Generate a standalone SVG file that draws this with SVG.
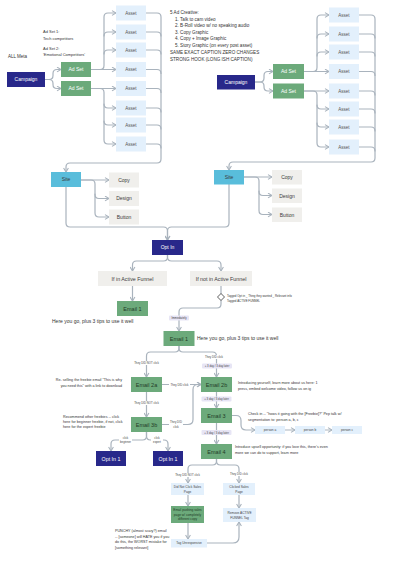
<svg xmlns="http://www.w3.org/2000/svg" width="400" height="564" viewBox="0 0 400 564">
<defs>
<marker id="a" viewBox="0 0 6 6" refX="5" refY="3" markerWidth="6" markerHeight="6" markerUnits="userSpaceOnUse" orient="auto"><path d="M1,0.6 L5,3 L1,5.4" fill="none" stroke="#a9b3bd" stroke-width="1.1"/></marker>
<style>
text{font-family:"Liberation Sans",Arial,sans-serif;}
.c{fill:none;stroke:#a9b3bd;stroke-width:1.2;stroke-linecap:round;stroke-linejoin:round}
.m{marker-end:url(#a)}
.navy{fill:#28288a}
.green{fill:#6caa7b}
.asset{fill:#e3f0fc}
.site{fill:#59bddb}
.gray{fill:#f0efec}
.lb{fill:#e3f0fc}
.pill{fill:#e7e5f5}
.wt{fill:#ffffff;font-size:5px;text-anchor:middle}
.dt{fill:#3a3a3a;font-size:5px;text-anchor:middle}
.at{fill:#555;font-size:4.5px;text-anchor:middle}
.et{fill:#1f3a27;font-size:5.5px;text-anchor:middle}
.note{fill:#333;font-size:4px}
.big{fill:#333;font-size:5px}
.tiny{fill:#444;font-size:2.8px;text-anchor:middle}
</style>
</defs>
<rect width="400" height="564" fill="#ffffff"/>

<g id="notes">
<text class="big" x="8" y="58" style="font-size:4.5px">ALL Meta</text>
<text class="note" x="43" y="33">Ad Set 1:</text>
<text class="note" x="43" y="39.5">Tech competitors</text>
<text class="note" x="43" y="49.5">Ad Set 2:</text>
<text class="note" x="43" y="56">'Emotional Competitors'</text>
<g style="font-size:4.6px" fill="#333">
<text x="170" y="14">5 Ad Creative:</text>
<text x="175" y="20.5">1. Talk to cam video</text>
<text x="175" y="27">2. B-Roll  video w/ no speaking audio</text>
<text x="175" y="33.7">3. Copy Graphic</text>
<text x="175" y="40.4">4. Copy  +  Image Graphic</text>
<text x="175" y="47.2">5. Story Graphic (on every post asset)</text>
<text x="170" y="54">SAME EXACT CAPTION ZERO CHANGES</text>
<text x="170" y="61">STRONG HOOK (LONG ISH CAPTION)</text>
</g>
<text class="big" x="52" y="323">Here you go, plus 3 tips to use it well</text>
<text class="big" x="197" y="340">Here you go, plus 3 tips to use it well</text>
<text class="note" x="122" y="381" text-anchor="end" style="font-size:3.7px">Re- selling the freebie email "This is why</text>
<text class="note" x="122" y="387" text-anchor="end" style="font-size:3.7px">you need this" with a link to download</text>
<text class="note" x="63" y="418" style="font-size:3.7px">Recommend other freebies -- click</text>
<text class="note" x="63" y="423.2" style="font-size:3.7px">here for beginner freebie, if not, click</text>
<text class="note" x="63" y="428.4" style="font-size:3.7px">here for the expert freebie</text>
<text class="note" x="238" y="384" style="font-size:3.7px">Introducing yourself, learn more about us here: 1</text>
<text class="note" x="238" y="389.5" style="font-size:3.7px">press, embed welcome video, follow us on ig</text>
<text class="note" x="248" y="415" style="font-size:3.7px">Check in -- "hows it going with the [Freebie]?" Pep talk w/</text>
<text class="note" x="248" y="420.5" style="font-size:3.7px">segmentation to: person a, b, c</text>
<text class="note" x="235" y="448" style="font-size:3.7px">Introduce upsell opportunity: if you love this, there's even</text>
<text class="note" x="235" y="454" style="font-size:3.7px">more we can do to support, learn more</text>
<text class="note" x="115" y="532" style="font-size:3.7px">PUNCHY (almost scary?) email</text>
<text class="note" x="115" y="537.5" style="font-size:3.7px">-- [someone] will HATE you if you</text>
<text class="note" x="115" y="543" style="font-size:3.7px">do this, the WORST mistake for</text>
<text class="note" x="115" y="548.5" style="font-size:3.7px">[something relevant]</text>
<text class="note" x="227" y="297" style="font-size:2.9px">Tagged Opt in _ Thing they wanted _ Relevant info</text>
<text class="note" x="227" y="301.5" style="font-size:2.9px">Tagged ACTIVE FUNNEL</text>
</g>

<g id="connectors" class="c">
<path class="m" d="M45,79.5 H49 Q53,79.5 53,75.5 V73.5 Q53,69.5 57,69.5 H61"/>
<path class="m" d="M45,79.5 H49 Q53,79.5 53,83.5 V84.5 Q53,88.5 57,88.5 H61"/>
<path class="m" d="M91,69.5 H116"/>
<path class="m" d="M91,69.5 H100 Q104,69.5 104,65.5 V17 Q104,13 108,13 H116"/>
<path class="m" d="M104,36 Q104,32 108,32 H116"/>
<path class="m" d="M104,54 Q104,50 108,50 H116"/>
<path class="m" d="M91,88.5 H116"/>
<path class="m" d="M91,88.5 H100 Q104,88.5 104,92.5 V140 Q104,144 108,144 H116"/>
<path class="m" d="M104,104 Q104,108 108,108 H116"/>
<path class="m" d="M104,121 Q104,125 108,125 H116"/>
<path class="m" d="M146,13 H157 Q161,13 161,17 V159 Q161,163 157,163 H70 Q66,163 66,167 V172"/>
<path d="M146,32 H157 Q161,32 161,36"/>
<path d="M146,50 H157 Q161,50 161,54"/>
<path d="M146,69.5 H157 Q161,69.5 161,73.5"/>
<path d="M146,88.5 H157 Q161,88.5 161,92.5"/>
<path d="M146,108 H157 Q161,108 161,112"/>
<path d="M146,125 H157 Q161,125 161,129"/>
<path d="M146,144 H157 Q161,144 161,148"/>
<path class="m" d="M81,180 H109"/>
<path class="m" d="M81,180 H91 Q95,180 95,184 V194.5 Q95,198.5 99,198.5 H109"/>
<path class="m" d="M95,194 V213 Q95,217 99,217 H109"/>
<path class="m" d="M66,187 V223 Q66,227 70,227 H163.5 Q167.5,227 167.5,231 V240"/>
<path class="m" d="M255,82 H260 Q264,82 264,78 V75.5 Q264,71.5 268,71.5 H273"/>
<path class="m" d="M255,82 H260 Q264,82 264,86 V87 Q264,91 268,91 H273"/>
<path class="m" d="M304,71.5 H329"/>
<path class="m" d="M304,71.5 H313 Q317,71.5 317,67.5 V19 Q317,15 321,15 H329"/>
<path class="m" d="M317,38 Q317,34 321,34 H329"/>
<path class="m" d="M317,56 Q317,52 321,52 H329"/>
<path class="m" d="M304,91 H329"/>
<path class="m" d="M304,91 H313 Q317,91 317,95 V143 Q317,147 321,147 H329"/>
<path class="m" d="M317,105 Q317,109 321,109 H329"/>
<path class="m" d="M317,123 Q317,127 321,127 H329"/>
<path class="m" d="M359,15 H371 Q375,15 375,19 V158 Q375,162 371,162 H233 Q229,162 229,166 V170"/>
<path d="M359,34 H371 Q375,34 375,38"/>
<path d="M359,52 H371 Q375,52 375,56"/>
<path d="M359,71.5 H371 Q375,71.5 375,75.5"/>
<path d="M359,91 H371 Q375,91 375,95"/>
<path d="M359,109 H371 Q375,109 375,113"/>
<path d="M359,127 H371 Q375,127 375,131"/>
<path d="M359,147 H371 Q375,147 375,151"/>
<path class="m" d="M244,177 H272"/>
<path class="m" d="M244,177 H255 Q259,177 259,181 V191.5 Q259,195.5 263,195.5 H272"/>
<path class="m" d="M259,191 V210.5 Q259,214.5 263,214.5 H272"/>
<path class="m" d="M229,184 V223 Q229,227 225,227 H171.5 Q167.5,227 167.5,231 V240"/>
<path class="m" d="M167.5,255 V257 Q167.5,261 163.5,261 H136.5 Q132.5,261 132.5,265 V271"/>
<path class="m" d="M167.5,255 V257 Q167.5,261 171.5,261 H217 Q221,261 221,265 V271"/>
<path class="m" d="M132.5,286 V301"/>
<path d="M221,286 V293.5"/>
<path class="m" d="M221,300.5 V304 Q221,308 217,308 H183 Q179,308 179,312 V331"/>
<path class="m" d="M179,346 V348 Q179,352 175,352 H150.5 Q146.5,352 146.5,356 V377"/>
<path class="m" d="M179,346 V348 Q179,352 183,352 H212.5 Q216.5,352 216.5,356 V377"/>
<path class="m" d="M162,384.5 H201"/>
<path class="m" d="M162,424.5 H188 Q193,424.5 193,419.5 V389.5 Q193,384.5 198,384.5 H201"/>
<path class="m" d="M146.5,392 V417"/>
<path class="m" d="M146.5,432 V436 Q146.5,440 142.5,440 H115 Q111,440 111,444 V451"/>
<path class="m" d="M146.5,432 V436 Q146.5,440 150.5,440 H164 Q168,440 168,444 V451"/>
<path class="m" d="M216.5,392 V408"/>
<path class="m" d="M216.5,423 V444"/>
<path class="m" d="M232,415.5 H236 Q241,415.5 241,420.5 V425 Q241,430 246,430 H255"/>
<path class="m" d="M285,430 H295"/>
<path class="m" d="M325,430 H332"/>
<path class="m" d="M216.5,459 V461 Q216.5,465 212.5,465 H192 Q188,465 188,469 V483"/>
<path class="m" d="M216.5,459 V461 Q216.5,465 220.5,465 H235 Q239,465 239,469 V483"/>
<path class="m" d="M188,495 V506"/>
<path class="m" d="M188,523 V539"/>
<path class="m" d="M239,495 V508"/>
<path class="m" d="M207,543 H233 Q239,543 239,537 V522"/>
</g>

<g id="labels">
<rect class="pill" x="169" y="315.5" width="20" height="5" rx="1"/>
<text class="tiny" x="179" y="319">Immediately</text>
<rect fill="#fff" x="133" y="361" width="27" height="4"/>
<text class="tiny" x="146.5" y="364">They DID NOT click</text>
<rect fill="#fff" x="204" y="355" width="21" height="4"/>
<text class="tiny" x="214" y="358">They DID click</text>
<rect class="pill" x="202" y="363.5" width="30" height="5" rx="1"/>
<text class="tiny" x="217" y="367">+ 3 day / 3 day later</text>
<rect fill="#fff" x="169" y="382.5" width="21" height="4"/>
<text class="tiny" x="179.5" y="385.5">They DID click</text>
<rect fill="#fff" x="133" y="401" width="27" height="4"/>
<text class="tiny" x="146.5" y="404">They DID NOT click</text>
<rect fill="#fff" x="169" y="420" width="14" height="9"/>
<text class="tiny" x="176" y="423">They DID</text>
<text class="tiny" x="176" y="427.5">click</text>
<rect class="pill" x="201.5" y="396.5" width="30" height="5" rx="1"/>
<text class="tiny" x="216.5" y="400">+ 3 day / 3 day later</text>
<rect class="pill" x="201.5" y="430" width="30" height="5" rx="1"/>
<text class="tiny" x="216.5" y="433.5">+ 3 day / 3 day later</text>
<rect fill="#fff" x="119" y="435.5" width="13" height="9"/>
<text class="tiny" x="125.5" y="438.5">click</text>
<text class="tiny" x="125.5" y="443">beginner</text>
<rect fill="#fff" x="151" y="435.5" width="12" height="9"/>
<text class="tiny" x="157" y="438.5">click</text>
<text class="tiny" x="157" y="443">expert</text>
<rect fill="#fff" x="174" y="473" width="27" height="4"/>
<text class="tiny" x="187.5" y="476">They DID NOT click</text>
<rect fill="#fff" x="229" y="472" width="21" height="4"/>
<text class="tiny" x="239" y="475">They DID click</text>
</g>

<g id="campaign-left"><rect class="navy" x="7" y="72" width="38" height="15"/><text class="wt" x="26" y="81.3">Campaign</text></g>
<g id="adset-left-1"><rect class="green" x="61" y="62" width="30" height="15"/><text class="wt" x="76" y="71.3">Ad Set</text></g>
<g id="adset-left-2"><rect class="green" x="61" y="81" width="30" height="15"/><text class="wt" x="76" y="90.3">Ad Set</text></g>
<g id="asset-l1"><rect class="asset" x="116" y="5.5" width="30" height="15"/><text class="at" x="131" y="14.6">Asset</text></g>
<g id="asset-l2"><rect class="asset" x="116" y="24.5" width="30" height="15"/><text class="at" x="131" y="33.6">Asset</text></g>
<g id="asset-l3"><rect class="asset" x="116" y="42.5" width="30" height="15"/><text class="at" x="131" y="51.6">Asset</text></g>
<g id="asset-l4"><rect class="asset" x="116" y="62" width="30" height="15"/><text class="at" x="131" y="71.1">Asset</text></g>
<g id="asset-l5"><rect class="asset" x="116" y="81" width="30" height="15"/><text class="at" x="131" y="90.1">Asset</text></g>
<g id="asset-l6"><rect class="asset" x="116" y="100.5" width="30" height="15"/><text class="at" x="131" y="109.6">Asset</text></g>
<g id="asset-l7"><rect class="asset" x="116" y="117.5" width="30" height="15"/><text class="at" x="131" y="126.6">Asset</text></g>
<g id="asset-l8"><rect class="asset" x="116" y="136.5" width="30" height="15"/><text class="at" x="131" y="145.6">Asset</text></g>
<g id="site-left"><rect class="site" x="51" y="172" width="30" height="15"/><text class="dt" x="66" y="181.3">Site</text></g>
<g id="copy-left"><rect class="gray" x="109" y="172.5" width="30" height="15"/><text class="dt" x="124" y="181.8">Copy</text></g>
<g id="design-left"><rect class="gray" x="109" y="191" width="30" height="15"/><text class="dt" x="124" y="200.3">Design</text></g>
<g id="button-left"><rect class="gray" x="109" y="209.5" width="30" height="15"/><text class="dt" x="124" y="218.8">Button</text></g>

<g id="campaign-right"><rect class="navy" x="217" y="75" width="38" height="14.5"/><text class="wt" x="236" y="84">Campaign</text></g>
<g id="adset-right-1"><rect class="green" x="273" y="64" width="31" height="15"/><text class="wt" x="288.5" y="73.3">Ad Set</text></g>
<g id="adset-right-2"><rect class="green" x="273" y="83.5" width="31" height="15"/><text class="wt" x="288.5" y="92.8">Ad Set</text></g>
<g id="asset-r1"><rect class="asset" x="329" y="7.5" width="30" height="15"/><text class="at" x="344" y="16.6">Asset</text></g>
<g id="asset-r2"><rect class="asset" x="329" y="26.5" width="30" height="15"/><text class="at" x="344" y="35.6">Asset</text></g>
<g id="asset-r3"><rect class="asset" x="329" y="44.5" width="30" height="15"/><text class="at" x="344" y="53.6">Asset</text></g>
<g id="asset-r4"><rect class="asset" x="329" y="64" width="30" height="15"/><text class="at" x="344" y="73.1">Asset</text></g>
<g id="asset-r5"><rect class="asset" x="329" y="83.5" width="30" height="15"/><text class="at" x="344" y="92.6">Asset</text></g>
<g id="asset-r6"><rect class="asset" x="329" y="101.5" width="30" height="15"/><text class="at" x="344" y="110.6">Asset</text></g>
<g id="asset-r7"><rect class="asset" x="329" y="119.5" width="30" height="15"/><text class="at" x="344" y="128.6">Asset</text></g>
<g id="asset-r8"><rect class="asset" x="329" y="139.5" width="30" height="15"/><text class="at" x="344" y="148.6">Asset</text></g>
<g id="site-right"><rect class="site" x="214" y="170" width="30" height="14.5"/><text class="dt" x="229" y="179">Site</text></g>
<g id="copy-right"><rect class="gray" x="272" y="170" width="30" height="14.5"/><text class="dt" x="287" y="179">Copy</text></g>
<g id="design-right"><rect class="gray" x="272" y="188.5" width="30" height="14.5"/><text class="dt" x="287" y="197.5">Design</text></g>
<g id="button-right"><rect class="gray" x="272" y="207.5" width="30" height="14.5"/><text class="dt" x="287" y="216.5">Button</text></g>

<g id="opt-in"><rect class="navy" x="152" y="240" width="31" height="15"/><text class="wt" x="167.5" y="249.3">Opt In</text></g>
<g id="if-in"><rect class="gray" x="98" y="271" width="69" height="15"/><text class="dt" x="132.5" y="280.5" style="font-size:5.3px">If in Active Funnel</text></g>
<g id="if-not"><rect class="gray" x="190" y="271" width="62" height="15"/><text class="dt" x="221" y="280.5" style="font-size:5.3px">If not in Active Funnel</text></g>
<g id="tag-diamond"><path d="M221,293.5 L224.5,297 L221,300.5 L217.5,297 Z" fill="#fff" stroke="#333" stroke-width="0.8"/></g>
<g id="email1-left"><rect class="green" x="117" y="301" width="31" height="15"/><text class="et" x="132.5" y="310.5">Email 1</text></g>
<g id="email1"><rect class="green" x="163.5" y="331" width="31" height="15"/><text class="et" x="179" y="340.5">Email 1</text></g>
<g id="email2a"><rect class="green" x="131" y="377" width="31" height="15"/><text class="et" x="146.5" y="386.5">Email 2a</text></g>
<g id="email2b"><rect class="green" x="201" y="377" width="31" height="15"/><text class="et" x="216.5" y="386.5">Email 2b</text></g>
<g id="email3b"><rect class="green" x="131" y="417" width="31" height="15"/><text class="et" x="146.5" y="426.5">Email 3b</text></g>
<g id="email3"><rect class="green" x="201" y="408" width="31" height="15"/><text class="et" x="216.5" y="417.5">Email 3</text></g>
<g id="email4"><rect class="green" x="201" y="444" width="31" height="15"/><text class="et" x="216.5" y="453.5">Email 4</text></g>
<g id="optin1-a"><rect class="navy" x="96" y="451" width="30" height="15"/><text class="wt" x="111" y="460.5" style="font-size:5.3px">Opt In 1</text></g>
<g id="optin1-b"><rect class="navy" x="153" y="451" width="30" height="15"/><text class="wt" x="168" y="460.5" style="font-size:5.3px">Opt In 1</text></g>
<g id="person-a"><rect class="lb" x="255" y="426" width="30" height="8"/><text class="tiny" x="270" y="431" style="font-size:3.2px">person a</text></g>
<g id="person-b"><rect class="lb" x="295" y="426" width="30" height="8"/><text class="tiny" x="310" y="431" style="font-size:3.2px">person b</text></g>
<g id="person-c"><rect class="lb" x="332" y="426" width="30" height="8"/><text class="tiny" x="347" y="431" style="font-size:3.2px">person c</text></g>
<g id="did-not-click"><rect class="lb" x="171" y="483" width="33" height="12"/><text class="tiny" x="187.5" y="488" style="font-size:3.2px">Did Not Click  Sales</text><text class="tiny" x="187.5" y="492.5" style="font-size:3.2px">Page</text></g>
<g id="clicked"><rect class="lb" x="223" y="483" width="32" height="12"/><text class="tiny" x="239" y="488" style="font-size:3.2px">Clicked  Sales</text><text class="tiny" x="239" y="492.5" style="font-size:3.2px">Page</text></g>
<g id="email-pushing"><rect class="green" x="171" y="506" width="33" height="17"/><text class="tiny" x="187.5" y="511" style="font-size:3.2px;fill:#1f3a27">Email pushing  sales</text><text class="tiny" x="187.5" y="515.5" style="font-size:3.2px;fill:#1f3a27">page w/ completely</text><text class="tiny" x="187.5" y="520" style="font-size:3.2px;fill:#1f3a27">different copy</text></g>
<g id="remove-tag"><rect class="lb" x="223" y="508" width="33" height="14"/><text class="tiny" x="239.5" y="513.5" style="font-size:3.2px">Remove ACTIVE</text><text class="tiny" x="239.5" y="518.5" style="font-size:3.2px">FUNNEL Tag</text></g>
<g id="tag-unresponsive"><rect class="lb" x="171" y="539" width="36" height="8.5"/><text class="tiny" x="189" y="544.3" style="font-size:3.2px">Tag Unresponsive</text></g>
</svg>
